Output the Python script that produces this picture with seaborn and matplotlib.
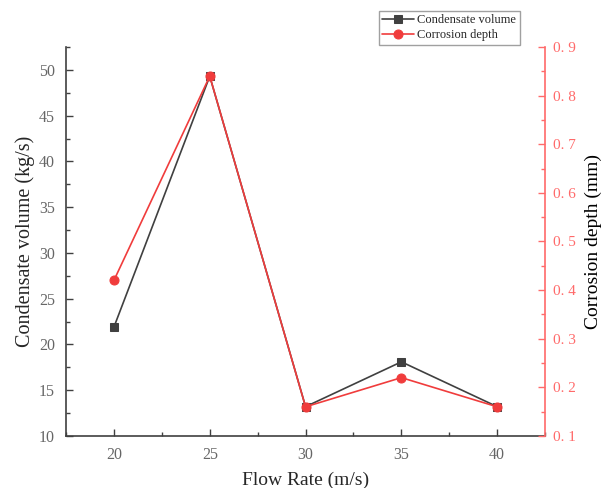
import matplotlib
matplotlib.use('Agg')
import matplotlib.pyplot as plt
import seaborn as sns
import pandas as pd
from matplotlib.ticker import MultipleLocator, FuncFormatter

flow_rate = [20, 25, 30, 35, 40]
condensate_volume = [21.9, 49.3, 13.2, 18.1, 13.2]
corrosion_depth = [0.42, 0.84, 0.16, 0.22, 0.16]

sns.set_style('ticks')
plt.rcParams['font.family'] = ['Liberation Serif', 'DejaVu Serif']

df = pd.DataFrame({'flow': flow_rate, 'cond': condensate_volume, 'corr': corrosion_depth})

fig = plt.figure(figsize=(6.03, 4.88), dpi=100)
ax = fig.add_axes([0.1095, 0.1066, 0.7945, 0.7971])
ax2 = ax.twinx()

black = '#404040'
red = '#f03c3c'
light_red = '#ff6a6a'

sns.lineplot(data=df, x='flow', y='cond', ax=ax, color=black, marker='s', markersize=6,
             markeredgecolor=black, linewidth=1.2, label='Condensate volume', legend=False)
sns.lineplot(data=df, x='flow', y='corr', ax=ax2, color=red, marker='o', markersize=6.5,
             markeredgecolor=red, linewidth=1.2, label='Corrosion depth', legend=False)

ax.set_xlim(17.5, 42.5)
ax.set_ylim(10, 52.5)
ax2.set_ylim(0.1, 0.9)

ax.xaxis.set_major_locator(MultipleLocator(5))
ax.xaxis.set_minor_locator(MultipleLocator(2.5))
ax.yaxis.set_major_locator(MultipleLocator(5))
ax.yaxis.set_minor_locator(MultipleLocator(2.5))
ax2.yaxis.set_major_locator(MultipleLocator(0.1))
ax2.yaxis.set_minor_locator(MultipleLocator(0.05))
ax2.yaxis.set_major_formatter(FuncFormatter(lambda v, p: ('%.1f' % v).replace('.', '. ')))

# only left/bottom on the main axis, red right spine on the twin
ax.spines['top'].set_visible(False)
ax2.spines['top'].set_visible(False)
ax.spines['right'].set_visible(False)
ax.spines['left'].set_color(black)
ax.spines['bottom'].set_color(black)
ax2.spines['left'].set_visible(False)
ax2.spines['bottom'].set_visible(False)
ax2.spines['right'].set_color(light_red)
for sp in ax.spines.values():
    sp.set_linewidth(1.2)
ax2.spines['right'].set_linewidth(1.2)

ax.tick_params(axis='both', which='both', direction='in', colors=black, labelcolor='#666666', labelsize=11.5)
ax.tick_params(which='major', length=5, width=1)
ax.tick_params(which='minor', length=3, width=1)
ax.tick_params(axis='x', pad=8)
ax.tick_params(axis='y', pad=8)
ax2.tick_params(axis='y', which='both', direction='in', colors=light_red, labelcolor=light_red, labelsize=11, pad=6)
ax2.tick_params(which='major', length=5, width=1)
ax2.tick_params(which='minor', length=3, width=1)

ax.set_xlabel('Flow Rate (m/s)', fontsize=14, labelpad=6)
ax.set_ylabel('Condensate volume (kg/s)', fontsize=14.5, labelpad=3)
ax2.set_ylabel('Corrosion depth (mm)', fontsize=14, color='black', labelpad=6)

h1, l1 = ax.get_legend_handles_labels()
h2, l2 = ax2.get_legend_handles_labels()
fig.legend(h1 + h2, l1 + l2, loc='upper left', bbox_to_anchor=(0.628, 0.978), fontsize=9,
           frameon=True, fancybox=False, edgecolor='#888888', borderpad=0.3, labelspacing=0.2,
           handlelength=2.5, handletextpad=0.3, borderaxespad=0)

fig.savefig('out.png', dpi=100)
